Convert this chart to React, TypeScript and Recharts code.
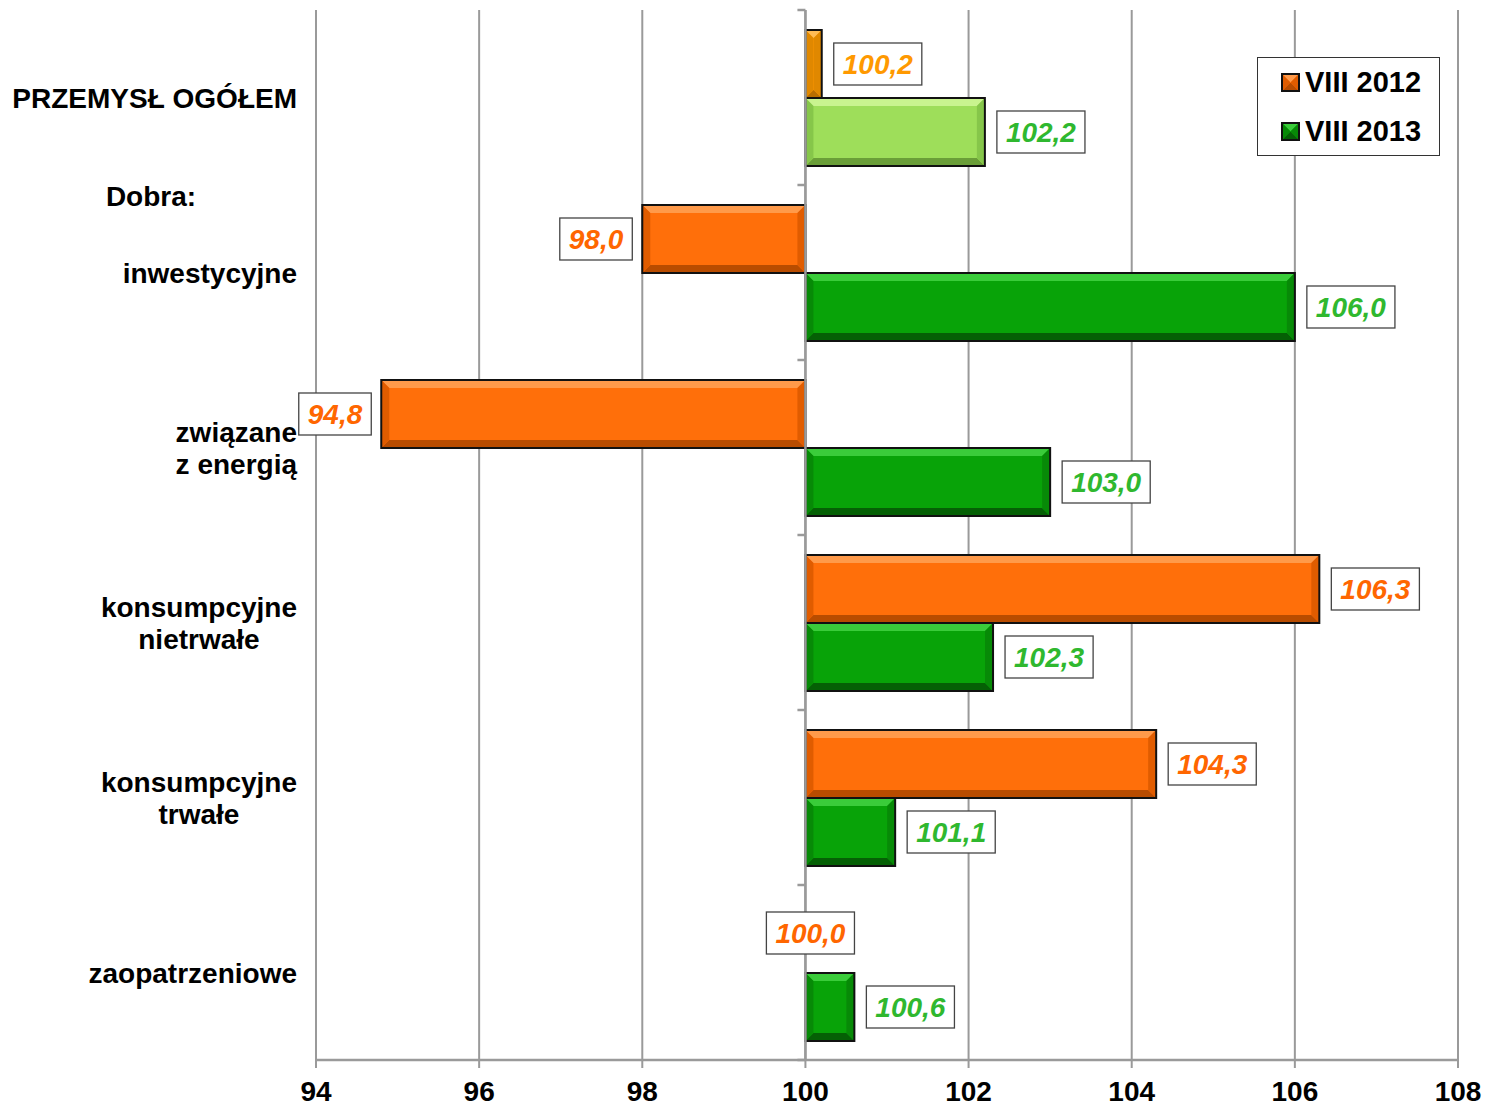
import {
  BarChart,
  Bar,
  XAxis,
  YAxis,
  CartesianGrid,
  ReferenceLine,
  Legend,
  LabelList,
} from "recharts";

const CATEGORIES = [
  "PRZEMYSŁ OGÓŁEM",
  "inwestycyjne",
  "związane\nz energią",
  "konsumpcyjne\nnietrwałe",
  "konsumpcyjne\ntrwałe",
  "zaopatrzeniowe",
];
const GROUP_HEADER = "Dobra:";
const VIII_2012 = [100.2, 98.0, 94.8, 106.3, 104.3, 100.0];
const VIII_2013 = [102.2, 106.0, 103.0, 102.3, 101.1, 100.6];
const X_TICKS = [94, 96, 98, 100, 102, 104, 106, 108];
const BASE = 100;
const SERIES_NAMES = ["VIII 2012", "VIII 2013"];

const FONT = '"Liberation Sans", Arial, sans-serif';
const GRID = "#9a9a9a";

// bevel palettes: base, light (top), dark (bottom), side, label text colour
const ORANGE = { base: "#ff6f0a", light: "#ff9a4a", dark: "#b84c00", side: "#e05c00", text: "#ff6600" };
const ORANGE_LIGHT = { base: "#ff9900", light: "#ffbb55", dark: "#b86d00", side: "#e08800", text: "#ff9900" };
const GREEN = { base: "#08a308", light: "#3acc3a", dark: "#056005", side: "#078a07", text: "#2fb82f" };
const GREEN_LIGHT = { base: "#9ede5a", light: "#c9f48f", dark: "#6a9e38", side: "#86c64a", text: "#2fb82f" };

const rows = CATEGORIES.map((name, i) => ({
  name,
  v12: VIII_2012[i],
  v13: VIII_2013[i],
  r12: [Math.min(BASE, VIII_2012[i]), Math.max(BASE, VIII_2012[i])],
  r13: [Math.min(BASE, VIII_2013[i]), Math.max(BASE, VIII_2013[i])],
}));

const fmt = (v: number) => v.toFixed(1).replace(".", ",");

let ctx: CanvasRenderingContext2D | null = null;
function measure(text: string, font: string): number {
  if (!ctx) ctx = document.createElement("canvas").getContext("2d");
  if (!ctx) return text.length * 15;
  ctx.font = font;
  return ctx.measureText(text).width;
}

function paletteFor(series: "12" | "13", index: number) {
  if (series === "12") return index === 0 ? ORANGE_LIGHT : ORANGE;
  return index === 0 ? GREEN_LIGHT : GREEN;
}

function BevelBar(props: any) {
  let { x, y, width, height } = props;
  const pal = props.pal;
  if (width < 0) {
    x += width;
    width = -width;
  }
  if (width < 0.5 || !pal) return <g />;
  const b = Math.min(8, width / 2, height / 2);
  const r = x + width;
  const btm = y + height;
  return (
    <g>
      <rect x={x} y={y} width={width} height={height} fill={pal.base} />
      <polygon points={`${x},${y} ${r},${y} ${r - b},${y + b} ${x + b},${y + b}`} fill={pal.light} />
      <polygon points={`${x},${btm} ${r},${btm} ${r - b},${btm - b} ${x + b},${btm - b}`} fill={pal.dark} />
      <polygon points={`${r},${y} ${r},${btm} ${r - b},${btm - b} ${r - b},${y + b}`} fill={pal.side} />
      <polygon points={`${x},${y} ${x},${btm} ${x + b},${btm - b} ${x + b},${y + b}`} fill={pal.side} />
      <rect x={x} y={y} width={width} height={height} fill="none" stroke="#111" strokeWidth={2} />
    </g>
  );
}

function ValueBox(props: any) {
  const { x, y, width, height, value, index, series } = props;
  const pal = paletteFor(series, index);
  const fs = 28;
  const font = `italic bold ${fs}px ${FONT}`;
  const text = fmt(value);
  const tw = measure(text, font);
  const bw = tw + 18;
  const bh = 42;
  const left = Math.min(x, x + width);
  const right = Math.max(x, x + width);
  let cy = y + height / 2;
  let bx: number;
  if (value > BASE) bx = right + 12;
  else if (value < BASE) bx = left - 10 - bw;
  else {
    bx = left + 5 - bw / 2;
    cy -= 6;
  }
  return (
    <g>
      <rect x={bx} y={cy - bh / 2} width={bw} height={bh} fill="#fff" stroke="#444" strokeWidth={1.3} />
      <text
        x={bx + bw / 2}
        y={cy + fs * 0.36}
        textAnchor="middle"
        fontFamily={FONT}
        fontStyle="italic"
        fontWeight="bold"
        fontSize={fs}
        fill={pal.text}
      >
        {text}
      </text>
    </g>
  );
}

function CategoryTick(props: any) {
  const { x, y, payload, index } = props;
  const fs = 28;
  const font = `bold ${fs}px ${FONT}`;
  const lines = String(payload.value).split("\n");
  const widest = Math.max(...lines.map((l) => measure(l, font)));
  const cx = x - widest / 2;
  const lh = 32;
  const top = y - ((lines.length - 1) * lh) / 2;
  return (
    <g>
      {index === 1 && (
        <text x={x - 146} y={y - 77 + fs * 0.36} textAnchor="middle" fontFamily={FONT} fontWeight="bold" fontSize={fs} fill="#000">
          {GROUP_HEADER}
        </text>
      )}
      {lines.map((l, i) => (
        <text
          key={i}
          x={cx}
          y={top + i * lh + fs * 0.36}
          textAnchor="middle"
          fontFamily={FONT}
          fontWeight="bold"
          fontSize={fs}
          fill="#000"
        >
          {l}
        </text>
      ))}
    </g>
  );
}

function BaseAxis(props: any) {
  const { x1, y1, x2, y2 } = props;
  const top = Math.min(y1, y2);
  const bottom = Math.max(y1, y2);
  const n = CATEGORIES.length;
  const marks = Array.from({ length: n + 1 }, (_, k) => top + ((bottom - top) * k) / n);
  return (
    <g>
      <line x1={x1} y1={top} x2={x2} y2={bottom} stroke={GRID} strokeWidth={2.5} />
      {marks.map((my, k) => (
        <line key={k} x1={x1 - 8} y1={my} x2={x1} y2={my} stroke={GRID} strokeWidth={2.5} />
      ))}
    </g>
  );
}

function LegendSwatch({ pal }: { pal: typeof ORANGE }) {
  return (
    <svg width={19} height={19} style={{ marginRight: 5 }}>
      <BevelBar x={1} y={1} width={17} height={17} pal={pal} />
    </svg>
  );
}

function LegendBox() {
  const pals = [ORANGE, GREEN];
  return (
    <div
      style={{
        boxSizing: "border-box",
        width: 183,
        height: 99,
        border: "1.3px solid #333",
        background: "#fff",
        padding: "0 0 0 23px",
        fontFamily: FONT,
        fontWeight: "bold",
        fontSize: 29,
        color: "#000",
      }}
    >
      {SERIES_NAMES.map((n, i) => (
        <div key={n} style={{ display: "flex", alignItems: "center", height: 49 }}>
          <LegendSwatch pal={pals[i]} />
          <span>{n}</span>
        </div>
      ))}
    </div>
  );
}

export default function App() {
  return (
    <div style={{ position: "absolute", left: 0, top: 0, width: 1485, height: 1107, background: "#fff" }}>
      <BarChart
        width={1485}
        height={1107}
        layout="vertical"
        data={rows}
        margin={{ top: 10, right: 27, left: 0, bottom: 0 }}
        barCategoryGap={20}
        barGap={0}
      >
        <CartesianGrid horizontal={false} stroke={GRID} strokeWidth={2} />
        <XAxis
          type="number"
          domain={[94, 108]}
          ticks={X_TICKS}
          interval={0}
          height={47}
          axisLine={{ stroke: GRID, strokeWidth: 2.5 }}
          tickLine={{ stroke: GRID, strokeWidth: 2 }}
          tickSize={8}
          tickMargin={13}
          tick={{ fill: "#000", fontSize: 28, fontWeight: "bold", fontFamily: FONT }}
        />
        <YAxis
          type="category"
          dataKey="name"
          width={316}
          axisLine={false}
          tickLine={false}
          tickSize={0}
          tickMargin={19}
          interval={0}
          tick={<CategoryTick />}
        />
        <Legend
          layout="horizontal"
          verticalAlign="middle"
          align="center"
          wrapperStyle={{ left: 1257, top: 57, width: 183, height: 99 }}
          content={() => <LegendBox />}
        />
        <Bar
          dataKey="r12"
          name={SERIES_NAMES[0]}
          isAnimationActive={false}
          shape={(p: any) => <BevelBar {...p} pal={paletteFor("12", p.index)} />}
        >
          <LabelList dataKey="v12" content={(p: any) => <ValueBox {...p} series="12" />} />
        </Bar>
        <Bar
          dataKey="r13"
          name={SERIES_NAMES[1]}
          isAnimationActive={false}
          shape={(p: any) => <BevelBar {...p} pal={paletteFor("13", p.index)} />}
        >
          <LabelList dataKey="v13" content={(p: any) => <ValueBox {...p} series="13" />} />
        </Bar>
        <ReferenceLine x={BASE} shape={(p: any) => <BaseAxis {...p} />} />
      </BarChart>
    </div>
  );
}
